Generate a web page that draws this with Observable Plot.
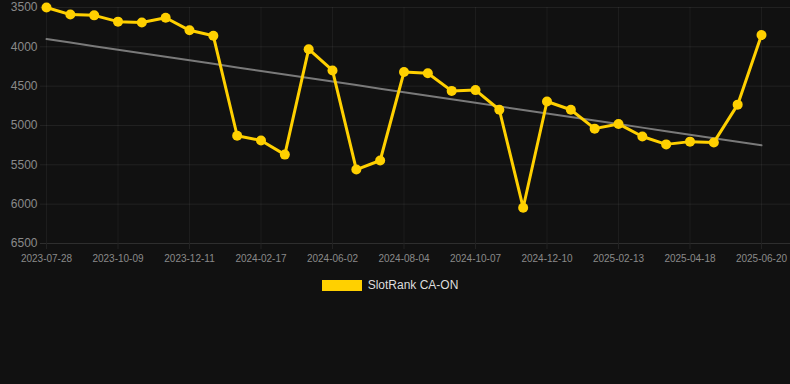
<!DOCTYPE html>
<html><head><meta charset="utf-8">
<script src="https://cdn.jsdelivr.net/npm/d3@7"></script>
<script src="https://cdn.jsdelivr.net/npm/@observablehq/plot@0.6"></script>
<style>
html,body{margin:0;padding:0;background:#111111;}
body{width:790px;height:384px;overflow:hidden;font-family:Arial,"Liberation Sans",sans-serif;}
#legend{display:flex;justify-content:center;align-items:center;height:30px;color:#dddddd;font-size:12px;padding-right:10px;}
.sw{display:inline-block;width:40px;height:11px;background:#FFD000;margin-right:6px;}
</style></head>
<body><div id="chart"></div><div id="legend"><span class="sw"></span><span id="lt"></span></div>
<script>
const seriesName = "SlotRank CA-ON";
const dates = [
  "2023-07-28","2023-08-21","2023-09-15","2023-10-09","2023-10-30","2023-11-20",
  "2023-12-11","2024-01-03","2024-01-26","2024-02-17","2024-03-23","2024-04-27",
  "2024-06-02","2024-06-23","2024-07-14","2024-08-04","2024-08-25","2024-09-16",
  "2024-10-07","2024-10-28","2024-11-18","2024-12-10","2024-12-31","2025-01-22",
  "2025-02-13","2025-03-06","2025-03-28","2025-04-18","2025-05-09","2025-05-30",
  "2025-06-20"
];
const ranks = [
  3500,3590,3600,3680,3690,3630,
  3790,3860,5130,5190,5370,4030,
  4300,5560,5445,4320,4335,4560,
  4550,4800,6045,4695,4800,5040,
  4980,5140,5240,5205,5215,4735,
  3850
];
const yTicks = [3500,4000,4500,5000,5500,6000,6500];
const xTickEvery = 3;

document.getElementById("lt").textContent = seriesName;

// x position = index of the date in the (evenly spaced, categorical) dates list
const data = dates.map((d,i)=>({date:d, rank:ranks[i], i}));
const n = ranks.length, mx = (n-1)/2, my = d3.mean(ranks);
let sxy = 0, sxx = 0;
ranks.forEach((v,i)=>{ sxy += (i-mx)*(v-my); sxx += (i-mx)**2; });
const slope = sxy/sxx;
const trend = data.map(d=>({i:d.i, rank: my + slope*(d.i-mx)}));
const tickIdx = d3.range(0, n, xTickEvery);

const plot = Plot.plot({
  width:790, height:270, marginTop:7, marginLeft:46, marginRight:29, marginBottom:27,
  style:{background:"#111111", color:"#888888", fontFamily:"Arial, 'Liberation Sans', sans-serif"},
  x:{type:"linear", domain:[0, n-1], label:null},
  y:{domain:[3500,6500], reverse:true, label:null},
  marks:[
    Plot.gridY(yTicks, {stroke:"#ffffff", strokeOpacity:0.07, insetLeft:-6, insetRight:-29}),
    Plot.gridX(tickIdx, {stroke:"#ffffff", strokeOpacity:0.05}),
    Plot.ruleY([6500], {stroke:"#2e2e2e", insetLeft:-6, insetRight:-29}),
    Plot.axisY(yTicks, {tickSize:0, tickPadding:9, fontSize:12, fill:"#8a8a8a", tickFormat:d=>String(d), label:null}),
    Plot.axisX(tickIdx, {tickSize:6, tickPadding:5, fontSize:10, fill:"#8a8a8a", stroke:"#222", tickFormat:i=>dates[i], label:null}),
    Plot.line(trend, {x:"i", y:"rank", stroke:"#7a7a7a", strokeWidth:2}),
    Plot.line(data, {x:"i", y:"rank", stroke:"#FFD000", strokeWidth:3}),
    Plot.dot(data, {x:"i", y:"rank", r:5, fill:"#FFD000"})
  ]
});
document.getElementById("chart").appendChild(plot);
</script>
</body></html>
